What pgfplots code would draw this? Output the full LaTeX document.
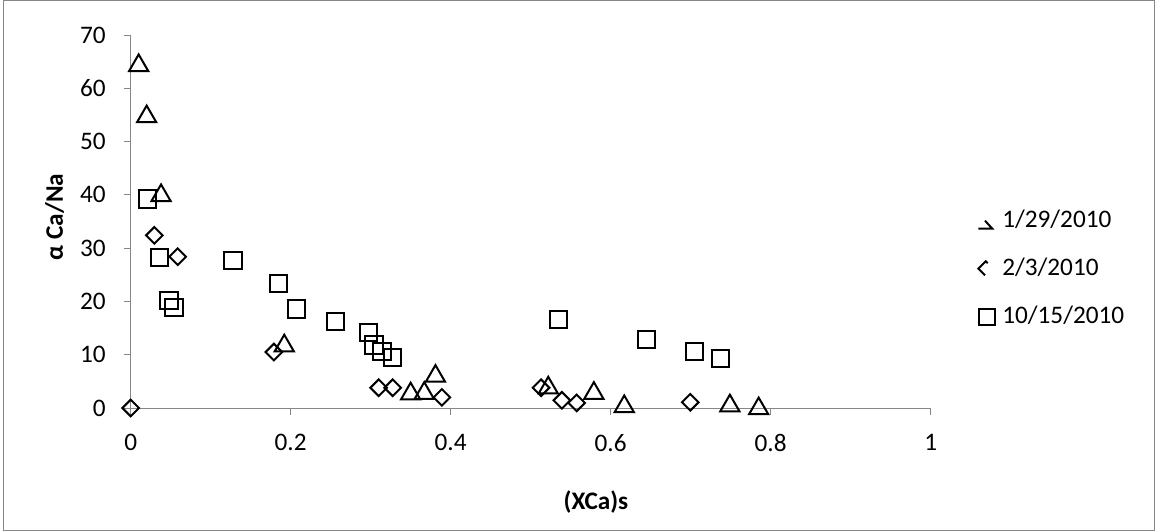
\documentclass[border=0pt]{standalone}
\usepackage{pgfplots}
\pgfplotsset{compat=1.18}
\usepackage{fontspec}
\setmainfont{Carlito}
\definecolor{axgray}{HTML}{868686}
\begin{document}
\fontsize{19}{23}\selectfont
\begin{tikzpicture}
\useasboundingbox (0,0) rectangle (866.25bp,-398.25bp);
\draw[axgray, line width=0.75bp] (2.6bp,-0.4bp) rectangle (865.9bp,-397.9bp);
\begin{axis}[
  at={(98bp,-306bp)}, anchor=south west,
  scale only axis, width=600bp, height=279.75bp,
  xmin=0, xmax=1, ymin=0, ymax=70,
  axis x line=bottom, axis y line=left,
  axis line style={axgray, line width=0.75bp, -},
  xtick={0,0.2,0.4,0.6,0.8,1}, xticklabels={0,0.2,0.4,0.6,0.8,1},
  ytick={0,10,20,30,40,50,60,70},
  tick align=outside, major tick length=5.25bp,
  tick style={axgray, line width=0.75bp},
  /pgf/number format/assume math mode=true,
  ticklabel style={font=\fontsize{19}{23}\selectfont, text=black},
  xticklabel style={yshift=-8bp},
  yticklabel style={xshift=-7bp},
  clip=false,
  xlabel={\textbf{(XCa)s}},
  xlabel style={at={(axis description cs:0.5816,-0.252)}, anchor=center},
  ylabel={\textbf{α Ca/Na}},
  ylabel style={at={(axis description cs:-0.095,0.512)}, anchor=center, rotate=0},
  legend style={draw=none, fill=none, at={(axis description cs:1.058,0.372)}, anchor=west,
    inner sep=0pt, row sep=16.5bp, font=\fontsize{19}{23}\selectfont,
    nodes={inner sep=1bp, text height=0.72em, text depth=0.2em}},
  legend cell align=left,
]
\addplot[only marks, mark=triangle, mark size=8.3bp, black, line width=1.5bp,
  mark options={yshift=-2.1bp},
  legend image code/.code={
    \path[draw=none, fill=none] (0bp,-7bp) rectangle (17bp,7bp);
    \draw[black, line width=1.5bp] (0bp,-5.5bp) -- (10.5bp,-5.5bp) -- (5bp,0.5bp);}]
coordinates {
(0.010,64.8) (0.020,55.2) (0.038,40.4) (0.192,12.2) (0.350,3.2) (0.367,3.3)
(0.381,6.5) (0.522,4.3) (0.579,3.3) (0.617,0.8) (0.749,0.95) (0.785,0.4)
};
\addlegendentry{1/29/2010}
\addplot[only marks, mark=square, mark size=4.4bp, black, line width=1.5bp,
  mark options={rotate=45},
  legend image code/.code={
    \path[draw=none, fill=none] (0bp,-7bp) rectangle (17bp,7bp);
    \draw[black, line width=1.5bp] (7bp,4.5bp) -- (5.5bp,6bp) -- (0bp,0.5bp) -- (5bp,-4.5bp);}]
coordinates {
(0,0) (0.0296,32.4) (0.0588,28.4) (0.179,10.5) (0.310,3.8) (0.3275,3.8)
(0.389,2.0) (0.513,3.8) (0.539,1.45) (0.5575,0.95) (0.6995,1.07)
};
\addlegendentry{2/3/2010}
\addplot[only marks, mark=square, mark size=6.5bp, black, line width=1.5bp,
  legend image code/.code={
    \path[draw=none, fill=none] (0bp,-7bp) rectangle (17bp,7bp);
    \draw[black, line width=1.5bp] (0.7bp,-6bp) rectangle (12.3bp,6bp);}]
coordinates {
(0.021,39.2) (0.036,28.2) (0.048,20.2) (0.054,18.8) (0.128,27.7) (0.185,23.4)
(0.207,18.6) (0.256,16.25) (0.297,14.2) (0.304,11.85) (0.314,10.65) (0.3275,9.5)
(0.535,16.6) (0.645,12.9) (0.7045,10.65) (0.7375,9.3)
};
\addlegendentry{10/15/2010}
\end{axis}
\end{tikzpicture}
\end{document}
